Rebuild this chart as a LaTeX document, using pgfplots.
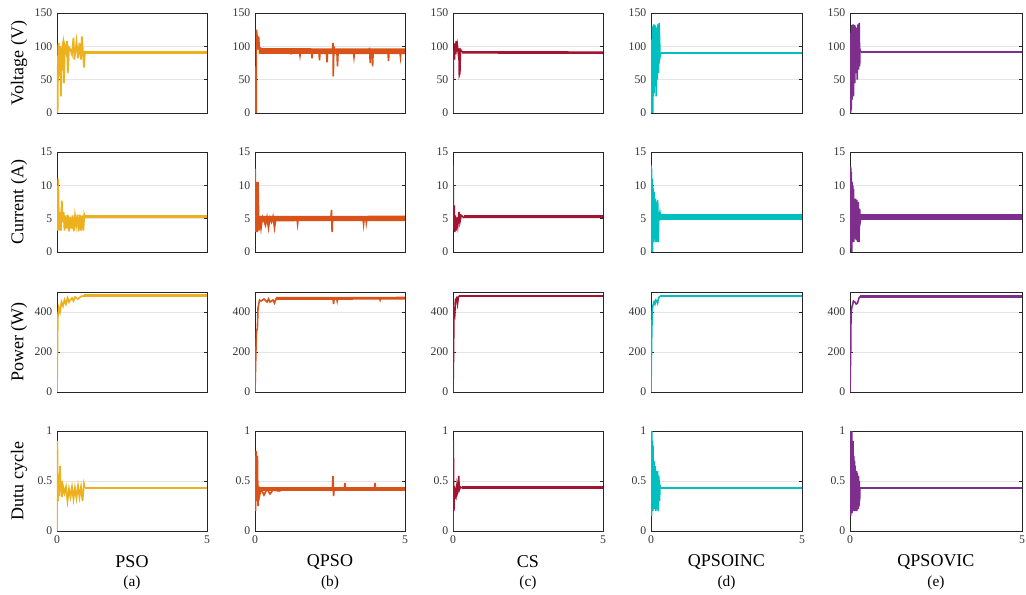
\documentclass[border=0pt]{standalone}
\usepackage{pgfplots}
\pgfplotsset{compat=1.18}
\usepackage{fontspec}
\setmainfont{Liberation Serif}

\definecolor{cpso}{RGB}{237,177,32}
\definecolor{cqpso}{RGB}{217,83,25}
\definecolor{ccs}{RGB}{162,20,47}
\definecolor{cinc}{RGB}{0,191,191}
\definecolor{cvic}{RGB}{126,47,142}

\pgfplotsset{
  cell/.style={
    scale only axis, width=112.5pt, height=75pt, anchor=south west,
    xmin=0, xmax=5, xtick={0,5}, xticklabels={},
    tick align=inside, major tick length=2.2pt,
    ymajorgrids, grid style={black!10, line width=0.7pt},
    axis line style={black!85, line width=0.6pt},
    tick style={black!85, line width=0.5pt},
    ticklabel style={font=\fontsize{8.8}{10}\selectfont, text=black!80},
    /pgf/number format/assume math mode=true,
    ylabel style={at={(axis description cs:-0.253,0.5)}, anchor=center,
      font=\fontsize{13.5}{16}\selectfont},
    xlabel style={at={(axis description cs:0.5,-0.31)}, anchor=center,
      font=\fontsize{13.5}{16}\selectfont},
  },
  wide/.style={width=129pt},
  volt/.style={ymin=0, ymax=150, ytick={0,50,100,150}},
  curr/.style={ymin=0, ymax=15, ytick={0,5,10,15}},
  powr/.style={ymin=0, ymax=500, ytick={0,200,400}},
  duty/.style={ymin=0, ymax=1, ytick={0,0.5,1}},
  bottom/.style={xticklabels={0,5}, xlabel={#1}},
  tag/.style={extra description/.code={
    \node[font=\fontsize{11.5}{13}\selectfont] at (0.5,-0.52) {#1};}},
}

\begin{document}
\begin{tikzpicture}
\path[use as bounding box] (0,0) rectangle (769.5pt,445.5pt);

% ---------------- PSO ----------------
\begin{axis}[cell, volt, at={(42.75pt,360.75pt)}, ylabel={Voltage (V)}]
\addplot[cpso, line width=1.3pt] coordinates {
 (0,0) (0.01,70) (0.02,0) (0.04,100) (0.06,105) (0.08,55) (0.1,100) (0.13,25)
 (0.16,95) (0.2,105) (0.23,45) (0.26,100) (0.3,92) (0.33,108) (0.36,60) (0.4,98)
 (0.45,95) (0.5,88) (0.55,113) (0.58,80) (0.62,95) (0.65,107) (0.7,82) (0.75,105)
 (0.8,80) (0.83,115) (0.87,88) (0.9,68) (0.93,92) (1.0,91)};
\addplot[cpso, line width=2.4pt] coordinates {(0.93,91) (5,91)};
\end{axis}

\begin{axis}[cell, curr, at={(42.75pt,256.5pt)}, ylabel={Current (A)}]
\addplot[cpso, line width=1.3pt] coordinates {
 (0,8) (0.02,3.2) (0.04,11) (0.06,5) (0.08,3.2) (0.1,6) (0.13,3.2) (0.16,7.7)
 (0.19,4.5) (0.22,6) (0.25,3.2) (0.28,5.5) (0.32,3.5) (0.36,5.6) (0.4,3.1)
 (0.44,5.3) (0.48,3.5) (0.52,5.5) (0.56,3.1) (0.6,5.4) (0.64,4) (0.68,5.6)
 (0.72,3.1) (0.76,5.6) (0.8,3.2) (0.84,5.5) (0.88,3.2) (0.91,5.6) (0.94,5.2) (1,5.3)};
\addplot[cpso, line width=2.6pt] coordinates {(0.94,5.3) (5,5.3)};
\end{axis}

\begin{axis}[cell, powr, at={(42.75pt,151.5pt)}, ylabel={Power (W)}]
\addplot[cpso, line width=1.3pt] coordinates {
 (0,0) (0.02,300) (0.03,380) (0.06,420) (0.1,400) (0.15,450) (0.2,430) (0.25,460)
 (0.3,440) (0.35,470) (0.4,450) (0.5,470) (0.55,455) (0.6,475) (0.7,465)
 (0.8,478) (0.9,480)};
\addplot[cpso, line width=2.2pt] coordinates {(0.9,481) (5,481)};
\end{axis}

\begin{axis}[cell, duty, at={(42.75pt,47.25pt)}, ylabel={Dutu cycle}, bottom={PSO}, tag={(a)}]
\addplot[cpso, line width=1.3pt] coordinates {
 (0,0) (0.01,0.9) (0.03,0.3) (0.05,0.55) (0.08,0.35) (0.1,0.65) (0.12,0.4)
 (0.14,0.5) (0.17,0.34) (0.2,0.45) (0.25,0.38) (0.3,0.44) (0.35,0.3) (0.4,0.42)
 (0.45,0.34) (0.5,0.44) (0.55,0.32) (0.6,0.43) (0.65,0.33) (0.7,0.45) (0.75,0.34)
 (0.8,0.44) (0.85,0.3) (0.9,0.47) (0.93,0.43)};
\addplot[cpso, line width=2.2pt] coordinates {(0.93,0.43) (5,0.43)};
\end{axis}

% ---------------- QPSO ----------------
\begin{axis}[cell, volt, at={(191.25pt,360.75pt)}]
\addplot[cqpso, line width=4.3pt] coordinates {(0.15,93) (5,92.5)};
\addplot[cqpso, line width=1.2pt] coordinates {
 (0,70) (0.01,0) (0.04,0) (0.05,125) (0.08,110) (0.1,95) (0.12,115) (0.15,92)
 (0.2,97) (0.3,94) (0.5,96) (0.7,95) (0.8,90) (1,92) (1.2,89) (1.4,92)
 (1.48,92) (1.5,86) (1.52,92) (1.88,92) (1.9,82) (1.92,92) (2.13,92) (2.15,79)
 (2.17,92) (2.38,91) (2.4,76) (2.42,92) (2.58,92) (2.6,105) (2.61,55) (2.63,100)
 (2.65,92) (2.73,92) (2.75,70) (2.77,92) (3.28,92) (3.3,84) (3.32,92)
 (3.8,92) (3.82,98) (3.84,75) (3.86,93) (3.9,92) (3.92,70) (3.94,92) (4.43,92)
 (4.45,78) (4.47,92) (4.83,92) (4.85,84) (4.87,93) (5,92)};
\end{axis}

\begin{axis}[cell, curr, at={(191.25pt,256.5pt)}]
\addplot[cqpso, line width=4pt] coordinates {(0.12,5) (5,5.05)};
\addplot[cqpso, line width=1.2pt] coordinates {
 (0,5) (0.01,12.5) (0.03,3) (0.05,10.5) (0.08,3) (0.1,10.5) (0.13,3.2) (0.16,5)
 (0.2,3.5) (0.25,5.2) (0.35,4) (0.4,5.2) (0.45,3.6) (0.5,5.1) (0.55,4.5)
 (0.6,5.3) (0.65,3.6) (0.7,5.1) (0.8,5.0) (1.4,5) (1.42,4.2) (1.44,5) (2.53,5.1)
 (2.55,6.3) (2.57,3.0) (2.59,5.2) (3.6,5) (3.62,4.2) (3.64,5.2) (3.69,5.1) (3.71,4.4)
 (3.73,5.1) (5,5)};
\end{axis}

\begin{axis}[cell, powr, at={(191.25pt,151.5pt)}]
\addplot[cqpso, line width=1.2pt] coordinates {
 (0,0) (0.03,200) (0.05,300) (0.08,320) (0.1,420) (0.15,460) (0.2,455) (0.3,465)
 (0.4,450) (0.45,465) (0.5,450) (0.6,460) (0.65,445) (0.7,465) (1,468)
 (2.6,470) (2.62,440) (2.64,470) (2.72,470) (2.74,455) (2.76,470) (4.15,470)
 (4.17,460) (4.19,470) (5,470)};
\addplot[cqpso, line width=2.2pt] coordinates {(0.7,468) (5,469)};
\end{axis}

\begin{axis}[cell, duty, at={(191.25pt,47.25pt)}, bottom={QPSO}, tag={(b)}]
\addplot[cqpso, line width=3.2pt] coordinates {(0.12,0.42) (5,0.42)};
\addplot[cqpso, line width=1.2pt] coordinates {
 (0,0.75) (0.02,0.2) (0.04,0.8) (0.06,0.3) (0.08,0.75) (0.1,0.25) (0.12,0.45)
 (0.15,0.35) (0.2,0.42) (0.3,0.36) (0.4,0.42) (0.5,0.37) (0.6,0.41) (0.8,0.4)
 (1,0.42) (2.58,0.42) (2.6,0.55) (2.62,0.35) (2.64,0.43) (2.98,0.42) (3.0,0.48)
 (3.02,0.41) (3.98,0.42) (4.0,0.48) (4.02,0.41) (5,0.42)};
\end{axis}

% ---------------- CS ----------------
\begin{axis}[cell, volt, at={(339.75pt,360.75pt)}]
\addplot[ccs, line width=1.2pt] coordinates {
 (0,0) (0.01,75) (0.03,95) (0.05,80) (0.07,105) (0.09,88) (0.11,108) (0.13,92)
 (0.15,100) (0.18,88) (0.2,97) (0.21,57) (0.23,60) (0.25,95) (0.3,92) (0.4,91)};
\addplot[ccs, line width=2pt] coordinates {(0.3,91) (5,90.5)};
\end{axis}

\begin{axis}[cell, curr, at={(339.75pt,256.5pt)}]
\addplot[ccs, line width=1.2pt] coordinates {
 (0,13) (0.02,3.5) (0.04,7) (0.06,3) (0.08,5.5) (0.1,3.2) (0.13,5.2) (0.16,4)
 (0.2,6) (0.23,4.5) (0.27,5.5) (0.35,5.2) (0.5,5.3)};
\addplot[ccs, line width=2pt] coordinates {(0.35,5.3) (5,5.3)};
\end{axis}

\begin{axis}[cell, powr, at={(339.75pt,151.5pt)}]
\addplot[ccs, line width=1.2pt] coordinates {
 (0,0) (0.02,200) (0.03,410) (0.06,390) (0.08,460) (0.12,470) (0.15,440)
 (0.18,475) (0.2,480)};
\addplot[ccs, line width=2.2pt] coordinates {(0.2,480) (5,480)};
\end{axis}

\begin{axis}[cell, duty, at={(339.75pt,47.25pt)}, bottom={CS}, tag={(c)}]
\addplot[ccs, line width=1.2pt] coordinates {
 (0,0) (0.01,0.9) (0.03,0.2) (0.05,0.45) (0.07,0.32) (0.09,0.43) (0.11,0.38)
 (0.13,0.45) (0.15,0.4) (0.17,0.44) (0.19,0.55) (0.21,0.41) (0.25,0.44) (0.3,0.43)};
\addplot[ccs, line width=2pt] coordinates {(0.3,0.435) (5,0.435)};
\end{axis}

% ---------------- QPSOINC ----------------
\begin{axis}[cell, volt, at={(488.25pt,360.75pt)}, width=113.25pt]
\addplot[cinc, line width=1.2pt] coordinates {
 (0,30) (0.01,100) (0.02,0) (0.03,110) (0.04,10) (0.05,130) (0.06,0) (0.07,125)
 (0.08,25) (0.09,133) (0.1,30) (0.11,130) (0.12,40) (0.13,132) (0.14,55)
 (0.15,130) (0.17,25) (0.19,128) (0.21,50) (0.23,133) (0.25,60) (0.27,135)
 (0.29,100) (0.3,85) (0.32,90)};
\addplot[cinc, line width=2pt] coordinates {(0.32,90) (5,90)};
\end{axis}

\begin{axis}[cell, curr, at={(488.25pt,256.5pt)}, width=113.25pt]
\addplot[cinc, line width=1.2pt] coordinates {
 (0,13) (0.01,0) (0.02,12.5) (0.03,1) (0.04,11) (0.05,0) (0.06,10) (0.07,2)
 (0.08,9.5) (0.09,1.5) (0.1,9) (0.12,2) (0.14,8) (0.16,1.5) (0.18,7.5) (0.2,1.5)
 (0.22,7.8) (0.24,1.5) (0.26,6) (0.28,4.7) (0.3,5.8) (0.32,5.2)};
\addplot[cinc, line width=4.7pt] coordinates {(0.3,5.25) (5,5.25)};
\end{axis}

\begin{axis}[cell, powr, at={(488.25pt,151.5pt)}, width=113.25pt]
\addplot[cinc, line width=1.2pt] coordinates {
 (0,0) (0.02,250) (0.04,400) (0.06,430) (0.1,450) (0.13,440) (0.16,460)
 (0.2,455) (0.22,445) (0.25,470) (0.3,480)};
\addplot[cinc, line width=2pt] coordinates {(0.3,480) (5,480)};
\end{axis}

\begin{axis}[cell, duty, at={(488.25pt,47.25pt)}, width=113.25pt, bottom={QPSOINC}, tag={(d)}]
\addplot[cinc, line width=1.2pt] coordinates {
 (0,0.2) (0.01,1) (0.02,0.15) (0.03,1) (0.04,0.2) (0.05,0.9) (0.06,0.2)
 (0.07,0.85) (0.08,0.25) (0.1,0.7) (0.12,0.22) (0.14,0.65) (0.16,0.2) (0.18,0.6)
 (0.2,0.22) (0.22,0.6) (0.24,0.2) (0.26,0.55) (0.28,0.3) (0.3,0.45) (0.32,0.43)};
\addplot[cinc, line width=1.6pt] coordinates {(0.32,0.43) (5,0.43)};
\end{axis}

% ---------------- QPSOVIC ----------------
\begin{axis}[cell, volt, wide, at={(637.5pt,360.75pt)}]
\addplot[cvic, line width=1.2pt] coordinates {
 (0,0) (0.01,100) (0.02,0) (0.03,120) (0.04,5) (0.05,132) (0.06,20) (0.07,130)
 (0.08,40) (0.09,133) (0.1,25) (0.11,128) (0.12,55) (0.13,132) (0.14,45)
 (0.15,130) (0.17,60) (0.19,128) (0.21,50) (0.23,133) (0.25,65) (0.27,135)
 (0.28,70) (0.29,95) (0.31,91)};
\addplot[cvic, line width=1.6pt] coordinates {(0.31,91) (5,91)};
\end{axis}

\begin{axis}[cell, curr, wide, at={(637.5pt,256.5pt)}]
\addplot[cvic, line width=1.2pt] coordinates {
 (0,12.5) (0.01,0.5) (0.02,12.8) (0.03,1) (0.04,12) (0.05,0) (0.06,10.5)
 (0.07,1.5) (0.08,10) (0.09,2) (0.1,9.5) (0.11,1.5) (0.12,8) (0.14,2) (0.16,8)
 (0.18,1.8) (0.2,7.8) (0.22,1.5) (0.24,7.5) (0.26,1.5) (0.28,6.5) (0.3,4.6)
 (0.32,5.2)};
\addplot[cvic, line width=4.3pt] coordinates {(0.3,5.2) (5,5.2)};
\end{axis}

\begin{axis}[cell, powr, wide, at={(637.5pt,151.5pt)}]
\addplot[cvic, line width=1.2pt] coordinates {
 (0,0) (0.02,200) (0.03,390) (0.05,420) (0.08,440) (0.1,455) (0.14,450)
 (0.18,440) (0.22,445) (0.26,470) (0.3,478)};
\addplot[cvic, line width=2.4pt] coordinates {(0.3,478) (5,478)};
\end{axis}

\begin{axis}[cell, duty, wide, at={(637.5pt,47.25pt)}, bottom={QPSOVIC}, tag={(e)}]
\addplot[cvic, line width=1.2pt] coordinates {
 (0,0.15) (0.01,1) (0.02,0.15) (0.03,1) (0.04,0.2) (0.05,1) (0.06,0.18)
 (0.07,0.9) (0.08,0.2) (0.09,0.9) (0.1,0.22) (0.11,0.75) (0.12,0.2) (0.13,0.7)
 (0.14,0.22) (0.15,0.65) (0.16,0.2) (0.17,0.6) (0.18,0.22) (0.19,0.6) (0.2,0.2)
 (0.21,0.58) (0.22,0.22) (0.23,0.55) (0.24,0.22) (0.25,0.55) (0.26,0.25)
 (0.27,0.5) (0.28,0.3) (0.29,0.43)};
\addplot[cvic, line width=1.6pt] coordinates {(0.29,0.43) (5,0.43)};
\end{axis}

\end{tikzpicture}
\end{document}
